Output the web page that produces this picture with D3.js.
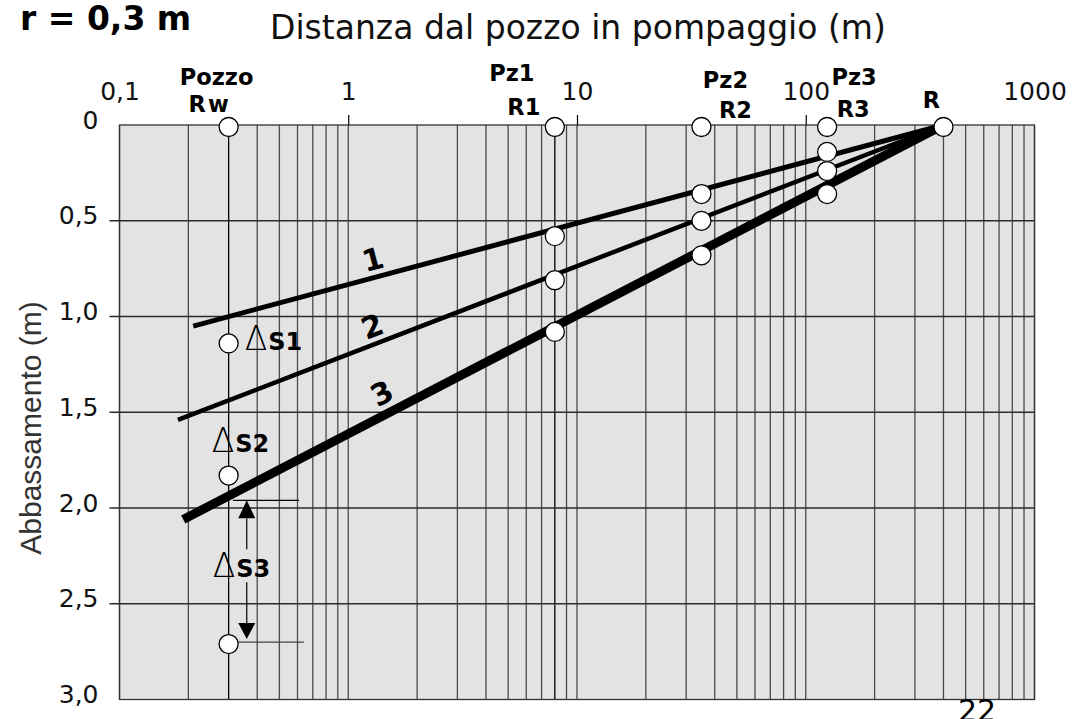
<!DOCTYPE html>
<html lang="it">
<head>
<meta charset="UTF-8">
<title>Abbassamento in funzione della distanza dal pozzo</title>
<script src="https://d3js.org/d3.v7.min.js"></script>
<style>
    body { margin: 0; background: #fff; }
    svg { display: block; }
</style>
</head>
<body>
<script>
    // distances (m) of the well and piezometers on the log axis
    var wellNames = ["Rw", "Pz1", "Pz2", "Pz3", "R"];
    var wellDist = [0.3, 8, 35, 124, 400];

    var xTickValues = [0.1, 1, 10, 100, 1000];
    var xTickLabels = ["0,1", "1", "10", "100", "1000"];
    var yTickValues = [0, 0.5, 1, 1.5, 2, 2.5, 3];
    var yTickLabels = ["0", "0,5", "1,0", "1,5", "2,0", "2,5", "3,0"];

    // drawdown lines 1, 2, 3 : left end (distance, drawdown), right end at R (400 m, 0)
    var lineNames = ["1", "2", "3"];
    var lineStartDist = [0.21, 0.18, 0.19];
    var lineStartDraw = [1.05, 1.54, 2.06];

    // drawdowns read at the piezometers (lines 1, 2, 3) and at the well radius
    var drawPz1 = [0.57, 0.80, 1.07];
    var drawPz2 = [0.35, 0.49, 0.67];
    var drawPz3 = [0.13, 0.23, 0.35];
    var drawRw = [1.13, 1.82, 2.70];
    var deltaNames = ["S1", "S2", "S3"];
    var ds3Top = 1.96;

    var w = 1091, h = 719;

    var x = d3.scaleLog()
            .domain([0.1, 1000])
            .range([119.5, 1034.5]);

    var y = d3.scaleLinear()
            .domain([0, 3])
            .range([125, 699.5]);

    var svg = d3.select("body")
            .append("svg")
            .attr("width", w)
            .attr("height", h);

    // plot background
    svg.append("rect")
        .attr("x", x(0.1))
        .attr("y", y(0))
        .attr("width", x(1000) - x(0.1))
        .attr("height", y(3) - y(0))
        .attr("fill", "#e3e3e3");

    // vertical log grid
    svg.selectAll("line.vgrid")
        .data(x.ticks())
        .enter()
        .append("line")
        .attr("class", "vgrid")
        .attr("x1", function(d) { return x(d); })
        .attr("x2", function(d) { return x(d); })
        .attr("y1", y(0))
        .attr("y2", y(3))
        .attr("stroke", function(d) { return (d === 0.3 || d === 8) ? "#000" : "#4a4a4a"; })
        .attr("stroke-width", 1.3);

    // horizontal grid, sticking out a little on the left
    svg.selectAll("line.hgrid")
        .data(yTickValues.slice(1, -1))
        .enter()
        .append("line")
        .attr("class", "hgrid")
        .attr("x1", x(0.1) - 10)
        .attr("x2", x(1000))
        .attr("y1", function(d) { return y(d); })
        .attr("y2", function(d) { return y(d); })
        .attr("stroke", "#2a2a2a")
        .attr("stroke-width", 1.3);

    // frame
    svg.append("rect")
        .attr("x", x(0.1))
        .attr("y", y(0))
        .attr("width", x(1000) - x(0.1))
        .attr("height", y(3) - y(0))
        .attr("fill", "none")
        .attr("stroke", "#333")
        .attr("stroke-width", 1.3);

    // top axis (distance)
    var xAxis = svg.append("g")
        .attr("transform", "translate(0," + y(0) + ")")
        .call(d3.axisTop(x)
            .tickValues(xTickValues)
            .tickFormat(function(d, i) { return xTickLabels[i]; })
            .tickSize(10)
            .tickPadding(15));
    xAxis.select(".domain").remove();
    xAxis.selectAll(".tick")
        .filter(function(d) { return d === 0.1 || d === 1000; })
        .select("line").remove();
    xAxis.selectAll(".tick line").attr("stroke", "#000").attr("stroke-width", 1.2);
    xAxis.selectAll("text")
        .attr("font-family", "DejaVu Sans")
        .attr("font-size", 25)
        .attr("fill", "#111");

    // left axis (drawdown)
    var yAxis = svg.append("g")
        .attr("transform", "translate(" + x(0.1) + ",0)")
        .call(d3.axisLeft(y)
            .tickValues(yTickValues)
            .tickFormat(function(d, i) { return yTickLabels[i]; })
            .tickSize(10)
            .tickPadding(11));
    yAxis.select(".domain").remove();
    yAxis.selectAll(".tick line").remove();
    yAxis.selectAll("text")
        .attr("dy", "0.12em")
        .attr("font-family", "DejaVu Sans")
        .attr("font-size", 25)
        .attr("fill", "#111");

    // drawdown lines
    var lineWidths = [5, 4.5, 9];
    var lineData = lineNames.map(function(n, i) {
        return {
            name: n,
            pts: [[lineStartDist[i], lineStartDraw[i]], [wellDist[4], 0]],
            width: lineWidths[i]
        };
    });

    var lineGen = d3.line()
        .x(function(d) { return x(d[0]); })
        .y(function(d) { return y(d[1]); });

    svg.selectAll("path.dd")
        .data(lineData)
        .enter()
        .append("path")
        .attr("class", "dd")
        .attr("d", function(d) { return lineGen(d.pts); })
        .attr("fill", "none")
        .attr("stroke", "#000")
        .attr("stroke-width", function(d) { return d.width; });

    // line numbers, turned along each line
    var lineLabelAt = [[1.28, 0.70], [1.27, 1.05], [1.40, 1.40]];
    svg.selectAll("text.lnum")
        .data(lineData)
        .enter()
        .append("text")
        .attr("class", "lnum")
        .attr("transform", function(d, i) {
            var a = Math.atan2(y(d.pts[1][1]) - y(d.pts[0][1]), x(d.pts[1][0]) - x(d.pts[0][0])) * 180 / Math.PI;
            return "translate(" + x(lineLabelAt[i][0]) + "," + y(lineLabelAt[i][1]) + ") rotate(" + a + ")";
        })
        .attr("text-anchor", "middle")
        .attr("dy", "0.36em")
        .attr("font-family", "DejaVu Sans")
        .attr("font-weight", "bold")
        .attr("font-size", 30)
        .text(function(d) { return d.name; });

    // delta S3 guides and arrow
    var xr = x(wellDist[0]);
    svg.append("line")
        .attr("x1", x(0.313)).attr("x2", x(0.61))
        .attr("y1", y(ds3Top)).attr("y2", y(ds3Top))
        .attr("stroke", "#000").attr("stroke-width", 1.2);
    svg.append("line")
        .attr("x1", x(0.32)).attr("x2", x(0.64))
        .attr("y1", y(drawRw[2])).attr("y2", y(drawRw[2]))
        .attr("stroke", "#444").attr("stroke-width", 1.2);

    var ax = x(0.36);
    var yTop = y(ds3Top), yBot = y(drawRw[2]) - 3;
    svg.append("path")
        .attr("d", "M" + ax + "," + yTop + " L" + (ax - 8.5) + "," + (yTop + 18) + " L" + (ax + 8.5) + "," + (yTop + 18) + " Z")
        .attr("fill", "#000");
    svg.append("path")
        .attr("d", "M" + ax + "," + yBot + " L" + (ax - 8.5) + "," + (yBot - 16) + " L" + (ax + 8.5) + "," + (yBot - 16) + " Z")
        .attr("fill", "#000");
    svg.append("line")
        .attr("x1", ax).attr("x2", ax)
        .attr("y1", yTop + 18).attr("y2", yTop + 49)
        .attr("stroke", "#000").attr("stroke-width", 1.2);
    svg.append("line")
        .attr("x1", ax).attr("x2", ax)
        .attr("y1", yTop + 82).attr("y2", yBot - 16)
        .attr("stroke", "#000").attr("stroke-width", 1.2);

    // measured points
    var points = [];
    wellDist.forEach(function(d) { points.push([d, 0]); });
    drawPz1.forEach(function(v) { points.push([wellDist[1], v]); });
    drawPz2.forEach(function(v) { points.push([wellDist[2], v]); });
    drawPz3.forEach(function(v) { points.push([wellDist[3], v]); });
    drawRw.forEach(function(v) { points.push([wellDist[0], v]); });

    svg.selectAll("circle")
        .data(points)
        .enter()
        .append("circle")
        .attr("cx", function(d) { return x(d[0]); })
        .attr("cy", function(d) { return y(d[1]) + 2; })
        .attr("r", 9.5)
        .attr("fill", "#fff")
        .attr("stroke", "#000")
        .attr("stroke-width", 1.3);

    // delta S labels
    var dsPos = [
        [xr + 16, y(drawRw[0]) + 9],
        [xr - 17, y(drawRw[1]) - 22],
        [xr - 16, (yTop + yBot) / 2 + 7]
    ];
    var ds = svg.selectAll("text.ds")
        .data(deltaNames)
        .enter()
        .append("text")
        .attr("class", "ds")
        .attr("x", function(d, i) { return dsPos[i][0]; })
        .attr("y", function(d, i) { return dsPos[i][1]; })
        .attr("font-family", "DejaVu Sans");
    ds.append("tspan")
        .attr("font-size", 33)
        .attr("font-weight", 300)
        .text("\u0394");
    ds.append("tspan")
        .attr("dx", 1)
        .attr("font-size", 24)
        .attr("font-weight", "bold")
        .text(function(d) { return d; });

    // well / piezometer names above the axis
    var wellLabels = [
        { top: "Pozzo", bot: "Rw", dxTop: -12, yTop: 85, dxBot: -19, yBot: 112 },
        { top: "Pz1", bot: "R1", dxTop: -43, yTop: 81, dxBot: -31, yBot: 115 },
        { top: "Pz2", bot: "R2", dxTop: 24, yTop: 88, dxBot: 34, yBot: 118 },
        { top: "Pz3", bot: "R3", dxTop: 27, yTop: 85, dxBot: 26, yBot: 117 },
        { top: "", bot: "R", dxTop: 0, yTop: 0, dxBot: -12, yBot: 108 }
    ];
    wellLabels.forEach(function(l, i) {
        var cx = x(wellDist[i]);
        if (l.top) {
            svg.append("text")
                .attr("x", cx + l.dxTop)
                .attr("y", l.yTop)
                .attr("text-anchor", "middle")
                .attr("font-family", "DejaVu Sans")
                .attr("font-weight", "bold")
                .attr("font-size", 22.5)
                .text(l.top);
        }
        svg.append("text")
            .attr("x", cx + l.dxBot)
            .attr("y", l.yBot)
            .attr("text-anchor", "middle")
            .attr("font-family", "DejaVu Sans")
            .attr("font-weight", "bold")
            .attr("font-size", 22.5)
            .attr("letter-spacing", l.bot === "Rw" ? 2 : 0)
            .text(l.bot);
    });

    // titles
    svg.append("text")
        .attr("x", 20)
        .attr("y", 30)
        .attr("font-family", "DejaVu Sans")
        .attr("font-weight", "bold")
        .attr("font-size", 33)
        .text("r = 0,3 m");

    svg.append("text")
        .attr("x", 270)
        .attr("y", 39)
        .attr("font-family", "DejaVu Sans")
        .attr("font-size", 33)
        .attr("fill", "#111")
        .text("Distanza dal pozzo in pompaggio (m)");

    svg.append("text")
        .attr("transform", "translate(41,428) rotate(-90)")
        .attr("text-anchor", "middle")
        .attr("font-family", "Liberation Sans")
        .attr("font-size", 30)
        .attr("fill", "#333")
        .text("Abbassamento (m)");

    // page number, cut by the bottom edge as on the printed page
    svg.append("text")
        .attr("x", 958)
        .attr("y", 721)
        .attr("font-family", "DejaVu Sans")
        .attr("font-size", 30)
        .text("22");
</script>
</body>
</html>
